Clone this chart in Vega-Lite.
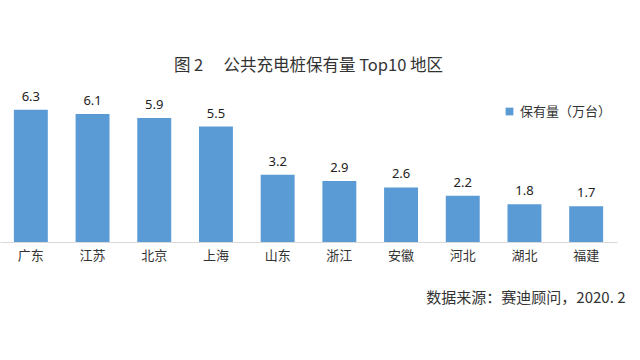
{
  "$schema": "https://vega.github.io/schema/vega-lite/v6.json",
  "autosize": "none",
  "width": 617,
  "height": 147,
  "padding": {"left": 0, "top": 95, "right": 23, "bottom": 118},
  "background": "white",
  "title": {
    "text": "图\u00a02\u3000\u00a0公共充电桩保有量 Top10 地区",
    "font": "Noto Sans CJK SC",
    "fontSize": 16.5,
    "fontWeight": "normal",
    "color": "#333333",
    "anchor": "middle",
    "offset": 16
  },
  "data": {
    "values": [
      {"region": "广东", "value": 6.3, "series": "保有量（万台）"},
      {"region": "江苏", "value": 6.1, "series": "保有量（万台）"},
      {"region": "北京", "value": 5.9, "series": "保有量（万台）"},
      {"region": "上海", "value": 5.5, "series": "保有量（万台）"},
      {"region": "山东", "value": 3.2, "series": "保有量（万台）"},
      {"region": "浙江", "value": 2.9, "series": "保有量（万台）"},
      {"region": "安徽", "value": 2.6, "series": "保有量（万台）"},
      {"region": "河北", "value": 2.2, "series": "保有量（万台）"},
      {"region": "湖北", "value": 1.8, "series": "保有量（万台）"},
      {"region": "福建", "value": 1.7, "series": "保有量（万台）"}
    ]
  },
  "encoding": {
    "x": {
      "field": "region",
      "type": "nominal",
      "sort": null,
      "scale": {"paddingInner": 0.45, "paddingOuter": 0.225},
      "axis": {
        "title": "数据来源：赛迪顾问，2020.\u00a02",
        "titleFont": "Noto Sans CJK SC",
        "titleFontSize": 15,
        "titleFontWeight": "normal",
        "titleColor": "#333333",
        "titleAnchor": "end",
        "titleAlign": "right",
        "titleX": 625,
        "titleY": 60,
        "titleBaseline": "alphabetic",
        "labelAngle": 0,
        "labelFont": "Noto Sans CJK SC",
        "labelFontSize": 13,
        "labelColor": "#333333",
        "labelPadding": 7,
        "ticks": false,
        "domainColor": "#d9d9d9",
        "domainWidth": 1,
        "grid": false
      }
    },
    "y": {
      "field": "value",
      "type": "quantitative",
      "scale": {"domain": [0, 7], "nice": false},
      "axis": null
    }
  },
  "layer": [
    {
      "mark": {"type": "bar", "color": "#5B9BD5"},
      "encoding": {
        "color": {
          "field": "series",
          "type": "nominal",
          "scale": {"range": ["#5B9BD5"]},
          "legend": {
            "title": null,
            "orient": "none",
            "legendX": 503,
            "legendY": 10,
            "symbolType": "square",
            "symbolSize": 60,
            "labelFont": "Noto Sans CJK SC",
            "labelFontSize": 13,
            "labelColor": "#333333"
          }
        }
      }
    },
    {
      "mark": {"type": "text", "baseline": "bottom", "dy": -6, "font": "Noto Sans", "fontSize": 13, "color": "#222222"},
      "encoding": {
        "text": {"field": "value", "type": "quantitative", "format": ".1f"}
      }
    }
  ],
  "config": {"view": {"stroke": null}}
}
